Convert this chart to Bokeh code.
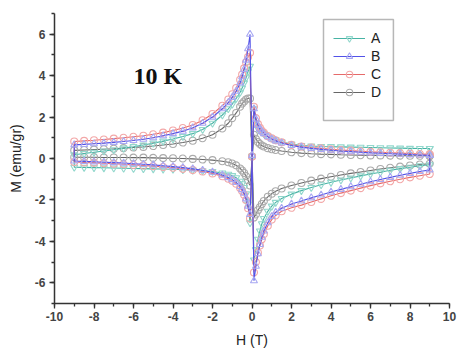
from bokeh.plotting import figure
from bokeh.models import (Legend, LegendItem, SingleIntervalTicker, BoxAnnotation, Label,
                          PrintfTickFormatter)
from bokeh.embed import file_html
from bokeh.resources import INLINE

# ---- data (H in T, M in emu/gr) ----
H_neg = [-9, -8.5, -8, -7.5, -7, -6.5, -6, -5.5, -5, -4.5, -4, -3.5, -3, -2.5, -2,
         -1.5, -1.2, -1.0, -0.8, -0.6, -0.5, -0.4, -0.3, -0.2, -0.1]
H_pos = [0.1, 0.2, 0.3, 0.4, 0.5, 0.6, 0.8, 1.0, 1.2, 1.5, 2, 2.5, 3, 3.5, 4, 4.5,
         5, 5.5, 6, 6.5, 7, 7.5, 8, 8.5, 9]
H_zero = 0.0

# upper-left branch (on H_neg)
A_ul = [0.18, 0.24, 0.30, 0.36, 0.42, 0.50, 0.57, 0.65, 0.74, 0.84, 0.94, 1.06, 1.20, 1.40, 1.70,
        2.10, 2.40, 2.62, 2.90, 3.20, 3.40, 3.65, 3.90, 4.20, 4.45]
B_ul = [0.66, 0.68, 0.71, 0.74, 0.78, 0.82, 0.87, 0.93, 1.00, 1.10, 1.20, 1.32, 1.48, 1.70, 2.00,
        2.40, 2.70, 2.95, 3.25, 3.65, 3.95, 4.30, 4.75, 5.30, 6.00]
C_ul = [0.82, 0.85, 0.88, 0.92, 0.96, 1.00, 1.05, 1.10, 1.17, 1.25, 1.35, 1.47, 1.62, 1.85, 2.15,
        2.55, 2.85, 3.10, 3.40, 3.80, 4.05, 4.35, 4.65, 4.90, 5.10]
D_ul = [0.39, 0.41, 0.43, 0.45, 0.47, 0.50, 0.53, 0.56, 0.60, 0.65, 0.70, 0.77, 0.86, 0.98, 1.15,
        1.45, 1.70, 1.95, 2.20, 2.50, 2.65, 2.75, 2.85, 2.90, 2.90]

# lower-left branch (on H_neg)
A_ll = [-0.42, -0.43, -0.44, -0.45, -0.46, -0.47, -0.48, -0.49, -0.50, -0.51, -0.52, -0.54, -0.56,
        -0.59, -0.63, -0.70, -0.76, -0.83, -0.93, -1.10, -1.22, -1.40, -1.70, -2.20, -3.10]
B_ll = [-0.12, -0.14, -0.16, -0.18, -0.20, -0.22, -0.25, -0.28, -0.31, -0.35, -0.39, -0.44, -0.50,
        -0.57, -0.66, -0.80, -0.92, -1.02, -1.15, -1.35, -1.50, -1.68, -1.95, -2.30, -2.70]
C_ll = [-0.17, -0.19, -0.21, -0.23, -0.25, -0.28, -0.31, -0.34, -0.37, -0.41, -0.45, -0.50, -0.56,
        -0.63, -0.72, -0.86, -0.98, -1.08, -1.22, -1.42, -1.57, -1.75, -2.00, -2.40, -2.90]
D_ll = [0.06, 0.06, 0.06, 0.05, 0.05, 0.05, 0.04, 0.04, 0.03, 0.02, 0.01, 0.00, -0.02,
        -0.05, -0.08, -0.13, -0.18, -0.24, -0.33, -0.48, -0.58, -0.70, -0.85, -1.05, -1.30]

# upper-right branch (on H_pos)
A_ur = [2.40, 1.70, 1.45, 1.35, 1.28, 1.20, 1.08, 0.98, 0.90, 0.80, 0.70, 0.63, 0.60, 0.58, 0.57,
        0.56, 0.55, 0.54, 0.53, 0.52, 0.51, 0.50, 0.49, 0.48, 0.48]
B_ur = [2.40, 1.90, 1.60, 1.42, 1.30, 1.20, 1.05, 0.94, 0.85, 0.75, 0.63, 0.55, 0.49, 0.44, 0.40,
        0.36, 0.33, 0.30, 0.27, 0.25, 0.23, 0.21, 0.19, 0.17, 0.15]
C_ur = [2.50, 1.95, 1.66, 1.48, 1.35, 1.24, 1.08, 0.97, 0.88, 0.78, 0.66, 0.58, 0.53, 0.49, 0.45,
        0.41, 0.38, 0.35, 0.32, 0.30, 0.28, 0.26, 0.24, 0.22, 0.20]
D_ur = [1.15, 0.95, 0.80, 0.70, 0.63, 0.58, 0.50, 0.45, 0.41, 0.36, 0.30, 0.26, 0.23, 0.21, 0.20,
        0.18, 0.17, 0.16, 0.15, 0.15, 0.14, 0.14, 0.13, 0.13, 0.12]

# lower-right branch (on H_pos)
A_lr = [-4.90, -4.40, -3.90, -3.50, -3.15, -2.90, -2.55, -2.30, -2.12, -1.93, -1.72, -1.55, -1.40,
        -1.27, -1.15, -1.04, -0.94, -0.84, -0.75, -0.66, -0.57, -0.49, -0.42, -0.35, -0.30]
B_lr = [-5.90, -5.20, -4.60, -4.15, -3.80, -3.50, -3.10, -2.80, -2.60, -2.40, -2.20, -2.05, -1.90,
        -1.76, -1.62, -1.49, -1.36, -1.24, -1.12, -1.01, -0.91, -0.81, -0.72, -0.63, -0.55]
C_lr = [-5.50, -5.00, -4.55, -4.20, -3.90, -3.65, -3.25, -2.95, -2.75, -2.55, -2.38, -2.25, -2.10,
        -1.95, -1.80, -1.67, -1.55, -1.43, -1.31, -1.20, -1.10, -1.00, -0.91, -0.83, -0.75]
D_lr = [-2.85, -2.70, -2.50, -2.35, -2.20, -2.05, -1.85, -1.70, -1.58, -1.45, -1.30, -1.18, -1.07,
        -0.97, -0.88, -0.80, -0.72, -0.65, -0.58, -0.51, -0.45, -0.39, -0.34, -0.29, -0.25]

# value at H = 0 between the upper-left and lower-right branches
M_zero = {"A": 0.10, "B": 0.15, "C": 0.10, "D": 0.10}

series_names = ["A", "B", "C", "D"]
branches = {
    "A": (A_ur, A_ll, A_ul, A_lr),
    "B": (B_ur, B_ll, B_ul, B_lr),
    "C": (C_ur, C_ll, C_ul, C_lr),
    "D": (D_ur, D_ll, D_ul, D_lr),
}

line_colors = {"A": "#47b3a4", "B": "#5252e8", "C": "#e66a6a", "D": "#666666"}
mark_colors = {"A": "#93d8cd", "B": "#a8a8f2", "C": "#f3a8a8", "D": "#ababab"}
markers = {"A": "inverted_triangle", "B": "triangle", "C": "circle", "D": "circle"}

p = figure(width=460, height=352, x_range=(-10, 10), y_range=(-7, 7),
           output_backend="svg", toolbar_location=None,
           min_border_left=54, min_border_right=11, min_border_top=13, min_border_bottom=49)
p.outline_line_color = None
p.xgrid.grid_line_color = None
p.ygrid.grid_line_color = None
p.background_fill_color = "white"
p.border_fill_color = "white"

legend_items = []
for name in ["D", "A", "C", "B"]:
    ur, ll, ul, lr = branches[name]
    h = H_pos[::-1] + H_neg[::-1] + H_neg + [H_zero] + H_pos + [H_pos[-1]]
    m = ur[::-1] + ll[::-1] + ul + [M_zero[name]] + lr + [ur[-1]]
    r1 = p.line(h, m, line_color=line_colors[name], line_width=1.1)
    r2 = p.scatter(h, m, marker=markers[name], size=7, line_color=mark_colors[name],
                   fill_alpha=0, line_width=1.1)
    legend_items.append((name, [r1, r2]))

order = {n: i for i, n in enumerate(series_names)}
legend_items.sort(key=lambda t: order[t[0]])
legend = Legend(items=[LegendItem(label=n, renderers=r) for n, r in legend_items],
                location=(273, 197), orientation="vertical",
                label_text_font="Liberation Sans", label_text_font_size="14px",
                label_text_color="#222222", glyph_width=32, glyph_height=16,
                label_height=16, spacing=2, padding=6, label_standoff=6,
                border_line_alpha=0, background_fill_alpha=0, margin=0)
p.add_layout(legend, "center")

box = BoxAnnotation(left=3.62, right=7.16, bottom=1.84, top=6.71,
                    fill_alpha=0, line_color="#111111", line_width=1.5)
p.add_layout(box)

p.add_layout(Label(x=-6.0, y=4.0, text="10 K", text_font="Liberation Serif",
                   text_font_style="bold", text_font_size="24px", text_color="#111111",
                   text_baseline="alphabetic"))

for ax in (p.xaxis[0], p.yaxis[0]):
    ax.axis_line_width = 1.5
    ax.axis_line_color = "#333333"
    ax.major_tick_line_color = "#333333"
    ax.minor_tick_line_color = "#333333"
    ax.major_tick_line_width = 1.3
    ax.minor_tick_line_width = 1.3
    ax.major_tick_out = 5
    ax.major_tick_in = 0
    ax.minor_tick_out = 3
    ax.minor_tick_in = 0
    ax.major_label_text_font = "Liberation Sans"
    ax.major_label_text_font_size = "12px"
    ax.major_label_text_font_style = "bold"
    ax.major_label_text_color = "#444444"
    ax.axis_label_text_font = "Liberation Sans"
    ax.axis_label_text_font_size = "14px"
    ax.axis_label_text_font_style = "normal"
    ax.axis_label_text_color = "#222222"
    ax.formatter = PrintfTickFormatter(format="%d")

p.xaxis[0].ticker = SingleIntervalTicker(interval=2, num_minor_ticks=2)
p.yaxis[0].ticker = SingleIntervalTicker(interval=2, num_minor_ticks=2)
p.xaxis[0].axis_label = "H (T)"
p.yaxis[0].axis_label = "M (emu/gr)"
p.xaxis[0].major_label_standoff = 3
p.xaxis[0].axis_label_standoff = 8
p.yaxis[0].major_label_standoff = 4
p.yaxis[0].axis_label_standoff = 8

open("out.html", "w").write(file_html(p, INLINE))
